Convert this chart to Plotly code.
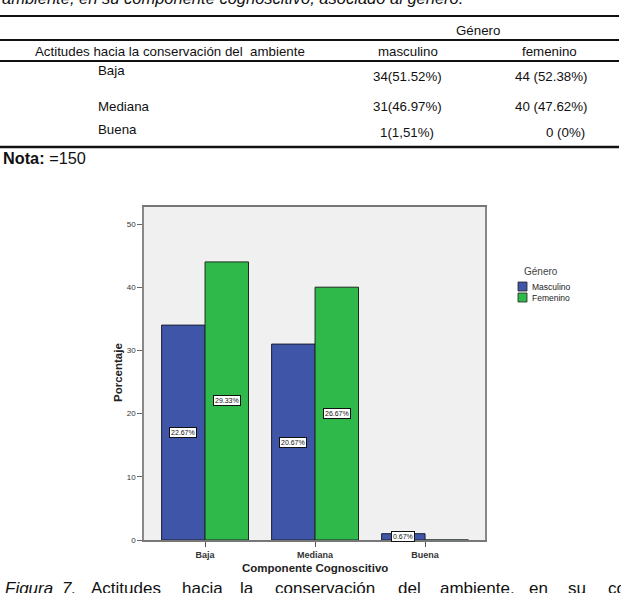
import plotly.graph_objects as go

# ---------------- data ----------------
categories = ["Baja", "Mediana", "Buena"]
masculino = [34, 31, 1]
femenino = [44, 40, 0]
masc_labels = ["22.67%", "20.67%", "0.67%"]
fem_labels = ["29.33%", "26.67%", ""]
series_names = ["Masculino", "Femenino"]
y_ticks = [0, 10, 20, 30, 40, 50]

table_header = ["Actitudes hacia la conservación del  ambiente", "masculino", "femenino"]
table_rows = ["Baja", "Mediana", "Buena"]
table_masc = ["34(51.52%)", "31(46.97%)", "1(1,51%)"]
table_fem = ["44 (52.38%)", "40 (47.62%)", "0 (0%)"]

BLUE = "#3E55A8"
GREEN = "#2FB94A"
FONT = "Liberation Sans, Arial, sans-serif"

W_FIG, H_FIG = 621, 593
L, R, T, B = 144, 136, 207, 53
PW = W_FIG - L - R
PH = H_FIG - T - B


def px(x):
    return (x - L) / PW


def py(y):
    return (H_FIG - B - y) / PH


fig = go.Figure()
fig.add_trace(go.Bar(x=categories, y=masculino, name=series_names[0],
                     marker=dict(color=BLUE, line=dict(color="#1c1f33", width=1)),
                     showlegend=False))
fig.add_trace(go.Bar(x=categories, y=femenino, name=series_names[1],
                     marker=dict(color=GREEN, line=dict(color="#1c2b1f", width=1)),
                     showlegend=False))

annotations = []
shapes = []

# bar value labels
bargap = 0.21
cat_px = PW / 3.1
bw = cat_px * (1 - bargap) / 2
for i, (vals, labs) in enumerate([(masculino, masc_labels), (femenino, fem_labels)]):
    for c, v, lab in zip(categories, vals, labs):
        if v > 0 and lab:
            annotations.append(dict(x=c, y=v / 2, xref="x", yref="y", text=lab,
                                    showarrow=False, xshift=(i - 0.5) * bw,
                                    xanchor="center", yanchor="middle",
                                    font=dict(family=FONT, size=7, color="#111"),
                                    bgcolor="white", bordercolor="#111", borderwidth=1,
                                    borderpad=1))


def ann(x, y, s, size, xanchor="center", color="#222", **kw):
    annotations.append(dict(x=px(x), y=py(y), xref="paper", yref="paper", text=s,
                            showarrow=False, xanchor=xanchor, yanchor="middle",
                            font=dict(family=FONT, size=size, color=color), **kw))


# axis titles
ann(315, 568, "<b>Componente Cognoscitivo</b>", 11.5)
ann(118, 373, "<b>Porcentaje</b>", 11.5, textangle=-90)

# manual legend
ann(541, 271, "Género", 10, color="#444")
for k, (name, col) in enumerate(zip(series_names, [BLUE, GREEN])):
    y0 = 282 + 11 * k
    shapes.append(dict(type="rect", xref="paper", yref="paper",
                       x0=px(518), x1=px(527), y0=py(y0), y1=py(y0 + 9),
                       fillcolor=col, line=dict(color="#222", width=0.8)))
    ann(530, y0 + 4.5, name, 8.5, xanchor="left")

# ---------------- table (document page) ----------------
def txt(x, y, s, size=13.3, xanchor="center", italic=False):
    annotations.append(dict(x=px(x), y=py(y), xref="paper", yref="paper", text=s,
                            showarrow=False, xanchor=xanchor, yanchor="middle",
                            font=dict(family=FONT, size=size, color="#111",
                                      style="italic" if italic else "normal")))


txt(0, -2, "ambiente, en su componente cognoscitivo, asociado al género.", size=16.5,
    xanchor="left", italic=True)
for yl, wdt in [(16, 2.2), (40, 2.2), (61, 1.8), (147, 2.4)]:
    shapes.append(dict(type="line", xref="paper", yref="paper",
                       x0=px(0), x1=px(619), y0=py(yl), y1=py(yl),
                       line=dict(color="#111", width=wdt)))

txt(478, 31, "Género")
txt(170, 52, table_header[0])
txt(408, 52, table_header[1])
txt(549, 52, table_header[2])
row_lab_y = [70, 106, 129]
row_val_y = [77, 106, 133]
for lab, m, f, yl, yv in zip(table_rows, table_masc, table_fem, row_lab_y, row_val_y):
    txt(96, yl, lab, xanchor="left")
    txt(407, yv, m)
    if f.startswith("0 "):
        txt(587, yv, f, xanchor="right")
    else:
        txt(551, yv, f)

txt(1, 158, "<b>Nota:</b> =150", size=16.3, xanchor="left")

# caption (justified words)
cap_words = [("Figura", 3, True), ("7.", 60, True), ("Actitudes", 89, False),
             ("hacia", 180, False), ("la", 238, False), ("conservación", 273, False),
             ("del", 396, False), ("ambiente,", 438, False), ("en", 527, False),
             ("su", 566, False), ("componente", 606, False)]
for wtxt, xx, it in cap_words:
    txt(xx, 588, wtxt, size=17, xanchor="left", italic=it)

fig.update_layout(
    width=W_FIG, height=H_FIG,
    margin=dict(l=L, r=R, t=T, b=B, pad=0),
    paper_bgcolor="white", plot_bgcolor="#F0F0F0",
    barmode="group", bargap=bargap, bargroupgap=0,
    annotations=annotations, shapes=shapes,
    font=dict(family=FONT),
)
fig.update_xaxes(range=[-0.555, 2.545], showline=True, linecolor="#777", linewidth=1.5,
                 mirror=True, ticks="outside", ticklen=5, tickcolor="#555",
                 tickfont=dict(family=FONT, size=9, color="#333", weight="bold"),
                 showgrid=False, zeroline=False, layer="above traces")
fig.update_yaxes(range=[0, 52.69], tickvals=y_ticks, showline=True, linecolor="#888",
                 linewidth=1.5, mirror=True, ticks="outside", ticklen=5, tickcolor="#666",
                 tickfont=dict(family=FONT, size=8, color="#333"),
                 showgrid=False, zeroline=False)

fig.write_html("out.html")
